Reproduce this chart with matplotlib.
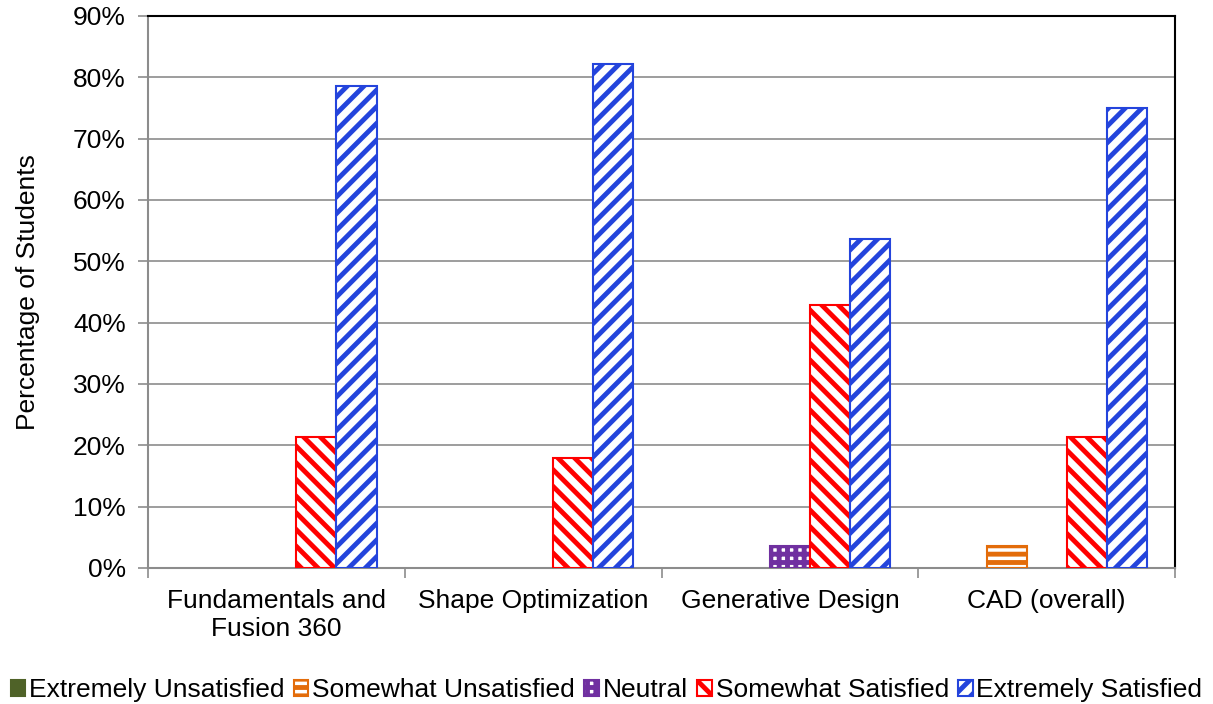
import matplotlib.pyplot as plt
import numpy as np
from matplotlib.patches import Patch
from matplotlib.ticker import FixedLocator, PercentFormatter

plt.rcParams['font.family'] = ['Liberation Sans', 'DejaVu Sans']
plt.rcParams['hatch.linewidth'] = 3.5

categories = ["Fundamentals and\nFusion 360", "Shape Optimization",
              "Generative Design", "CAD (overall)"]
responses = ["Extremely Unsatisfied", "Somewhat Unsatisfied", "Neutral",
             "Somewhat Satisfied", "Extremely Satisfied"]

extremely_unsatisfied = [0.0, 0.0, 0.0, 0.0]
somewhat_unsatisfied = [0.0, 0.0, 0.0, 3.6]
neutral = [0.0, 0.0, 3.6, 0.0]
somewhat_satisfied = [21.4, 17.9, 42.9, 21.4]
extremely_satisfied = [78.6, 82.1, 53.6, 75.0]

series = [extremely_unsatisfied, somewhat_unsatisfied, neutral,
          somewhat_satisfied, extremely_satisfied]
edge_colors = ["#4F6228", "#E36C0A", "#7030A0", "#FF0000", "#2444DC"]
face_colors = ["#4F6228", "white", "white", "white", "white"]
hatches = [None, "--", "++", "\\\\", "//"]

fig = plt.figure(figsize=(12.13, 7.04), dpi=100)
ax = fig.add_axes([0.122, 0.1932, 0.8467, 0.7841])

width = 0.156
x = np.arange(len(categories)) + 0.5
for j, vals in enumerate(series):
    vals = np.array(vals)
    keep = vals > 0
    if keep.any():
        ax.bar(x[keep] + (j - 2) * width, vals[keep], width,
               facecolor=face_colors[j], edgecolor=edge_colors[j],
               hatch=hatches[j], linewidth=1.5, zorder=3)

ax.set_xlim(0, 4)
ax.set_ylim(0, 90)
ax.set_yticks(np.arange(0, 91, 10))
ax.yaxis.set_major_formatter(PercentFormatter(decimals=0))
ax.grid(axis='y', color='#8C8C8C', linewidth=1.2, zorder=0)

# boundary ticks between groups, labels centred under each group
ax.xaxis.set_major_locator(FixedLocator([0, 1, 2, 3, 4]))
ax.xaxis.set_minor_locator(FixedLocator(x))
ax.set_xticklabels([], minor=False)
ax.set_xticklabels(categories, minor=True, fontsize=19)
ax.tick_params(axis='x', which='major', length=7, width=1.2, color='#8C8C8C')
ax.tick_params(axis='x', which='minor', length=0, pad=15)
ax.tick_params(axis='y', length=7, width=1.2, color='#8C8C8C',
               labelsize=19, pad=9)

for side in ('left', 'bottom'):
    ax.spines[side].set_color('#8C8C8C')
    ax.spines[side].set_linewidth(1.5)
for side in ('top', 'right'):
    ax.spines[side].set_color('black')
    ax.spines[side].set_linewidth(1.5)

ax.set_ylabel("Percentage of Students", fontsize=19, labelpad=24)

handles = [Patch(facecolor=face_colors[j], edgecolor=edge_colors[j],
                 hatch=hatches[j], linewidth=1.5, label=responses[j])
           for j in range(len(responses))]
fig.legend(handles=handles, loc='lower center', bbox_to_anchor=(0.5, -0.02),
           ncol=5, frameon=False, fontsize=19, handlelength=0.55,
           handleheight=0.55, handletextpad=0.15, columnspacing=0.35,
           borderaxespad=0.2)

fig.savefig("out.png", dpi=100)
